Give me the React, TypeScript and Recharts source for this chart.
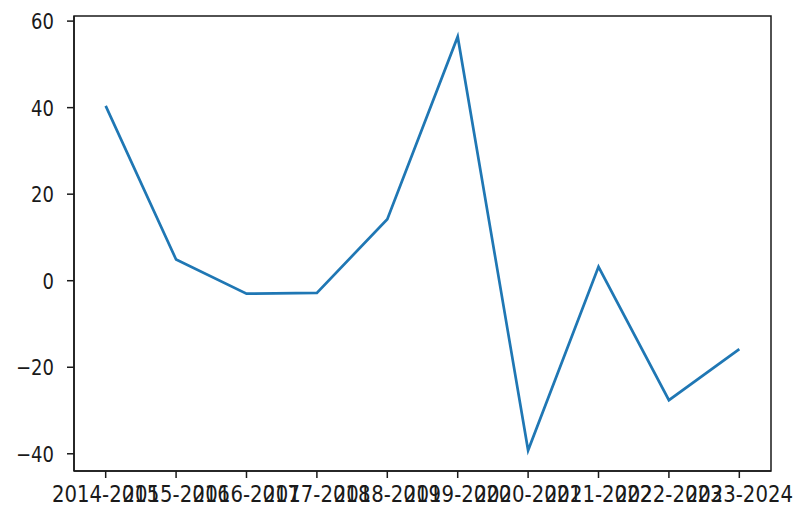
import { LineChart, Line, XAxis, YAxis, ReferenceArea } from 'recharts'

const years = ['2014-2015','2015-2016','2016-2017','2017-2018','2018-2019','2019-2020','2020-2021','2021-2022','2022-2023','2023-2024']
const growth = [40.4, 4.9, -3.0, -2.8, 14.2, 56.4, -39.2, 3.2, -27.6, -15.8]
const yTicks = [-40, -20, 0, 20, 40, 60]

const data = years.map((name, i) => ({ idx: i, name, value: growth[i] }))
const xTicks = years.map((_, i) => i)

const INK = '#1a1a1a'
const FONT = 'DejaVu Sans, sans-serif'
const X_DOM: [number, number] = [-0.45, 9.45]
const Y_DOM: [number, number] = [-43.98, 61.18]

// the reference text is a bit stretched vertically, so scale the tick labels
const XTick = (p: any) => (
  <text transform={`translate(${p.x},${p.y + 24}) scale(1,1.2)`} textAnchor="middle"
    fill={INK} fontSize={19.7} fontFamily={FONT}>{years[p.payload.value]}</text>
)
const YTick = (p: any) => {
  const v = p.payload.value
  return (
    <text transform={`translate(${p.x - 13},${p.y + 8}) scale(1,1.2)`} textAnchor="end"
      fill={INK} fontSize={18} fontFamily={FONT}>{v < 0 ? '\u2212' + Math.abs(v) : String(v)}</text>
  )
}

export default function App(){
  return (
    <div style={{ position: 'absolute', left: 0, top: 0, background: '#fff' }}>
      <LineChart width={810} height={521} data={data} margin={{ top: 16, right: 39, bottom: 0, left: 0 }}>
        <XAxis xAxisId="b" dataKey="idx" type="number" domain={X_DOM} ticks={xTicks} interval={0}
          height={50} tickSize={7} tickMargin={0} allowDataOverflow
          axisLine={{ stroke: INK, strokeWidth: 1.5 }} tickLine={{ stroke: INK, strokeWidth: 1.5 }}
          tick={<XTick />} />
        <YAxis yAxisId="l" type="number" domain={Y_DOM} ticks={yTicks} interval={0} width={74}
          tickSize={7} tickMargin={0} allowDataOverflow
          axisLine={{ stroke: INK, strokeWidth: 1.5 }} tickLine={{ stroke: INK, strokeWidth: 1.5 }}
          tick={<YTick />} />
        <ReferenceArea xAxisId="b" yAxisId="l" x1={X_DOM[0]} x2={X_DOM[1]} y1={Y_DOM[0]} y2={Y_DOM[1]}
          fill="none" fillOpacity={0} stroke={INK} strokeWidth={1.5} ifOverflow="visible" />
        <Line xAxisId="b" yAxisId="l" type="linear" dataKey="value" stroke="#1f77b4" strokeWidth={2.7}
          dot={false} activeDot={false} isAnimationActive={false} />
      </LineChart>
    </div>
  )
}
